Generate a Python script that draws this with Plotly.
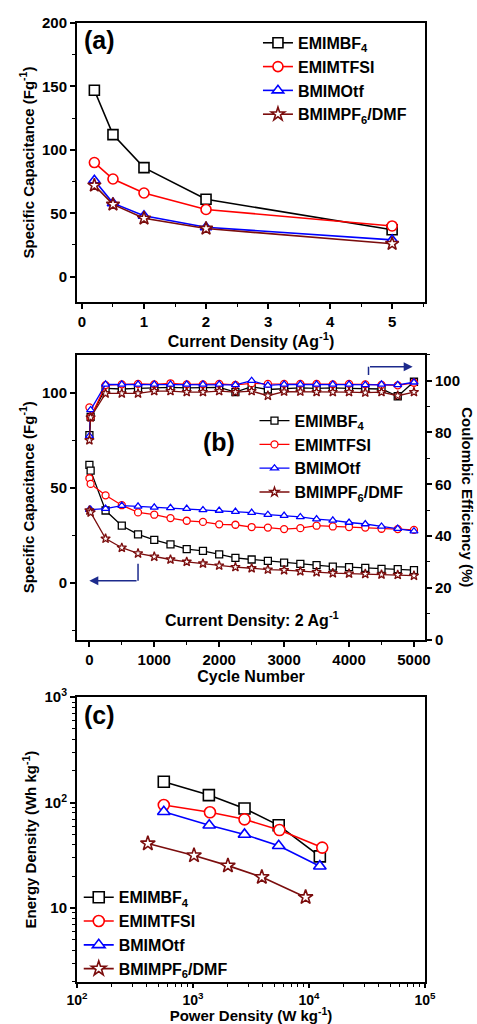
import plotly.graph_objects as go

# ---------------- data ----------------
names = ["EMIMBF<sub>4</sub>", "EMIMTFSI", "BMIMOtf", "BMIMPF<sub>6</sub>/DMF"]
colors = ["#000000", "#ff0000", "#0000ff", "#7b0d0d"]
symbols = ["square", "circle", "triangle-up", "star"]

# (a) specific capacitance vs current density
current_density = [0.2, 0.5, 1, 2, 5]
cap_a_emimbf4 = [147, 112, 86, 61, 37]
cap_a_emimtfsi = [90, 77, 66, 53, 40]
cap_a_bmimotf = [76, 58, 48, 39, 29]
cap_a_bmimpf6 = [72, 57, 46, 38, 26]

# (b) cycling
cycles = [1, 20, 250, 500, 750, 1000, 1250, 1500, 1750, 2000, 2250, 2500,
          2750, 3000, 3250, 3500, 3750, 4000, 4250, 4500, 4750, 5000]
cap_b_emimbf4 = [62, 59, 38, 30, 25.4, 22.5, 20.2, 17.7, 16.7, 14.9, 13.1, 12.2,
                 11.5, 10.6, 9.9, 9.2, 8.5, 8.2, 7.8, 7.3, 7.1, 6.6]
cap_b_emimtfsi = [55, 52, 46, 40.8, 37, 35.8, 34, 32.6, 32, 30.7, 30.5, 29.3,
                  29, 28.2, 28.7, 30, 29.6, 29.3, 29, 28.4, 28.2, 27.8]
cap_b_bmimotf = [38.5, 38.5, 39, 40.6, 40.2, 39.7, 39.4, 39, 38.3, 38, 37.4, 36.9,
                 35.8, 35.3, 34.6, 33.5, 32.8, 31.7, 30.9, 29.6, 28.5, 27.1]
cap_b_bmimpf6 = [38, 37, 23.2, 18.4, 15.4, 13.7, 12.2, 11, 10.1, 9, 8.2, 7.6,
                 6.9, 6.6, 6, 5.5, 5, 4.8, 4.6, 4.3, 4.1, 3.7]
ce_emimbf4 = [79, 86, 97, 96.8, 97, 97.2, 97.4, 97.2, 97.2, 97.4, 95.6, 97.7,
              96.6, 97, 97.2, 97, 97.2, 97, 97, 96.8, 94, 99.6]
ce_emimtfsi = [89.7, 85.8, 98.3, 98.6, 98.8, 98.6, 99, 98.6, 98.6, 98.8, 98.4, 99,
               98.8, 98.8, 98.8, 98.8, 98.6, 98.8, 98.6, 98.4, 98.2, 99.2]
ce_bmimotf = [78.6, 88.7, 98.6, 98.6, 98.6, 98.6, 98.6, 98.6, 98.6, 98.6, 98.4, 100,
              98.2, 98.6, 98.6, 98.6, 98.6, 98.6, 98.4, 98.6, 98.4, 99.4]
ce_bmimpf6 = [77, 85.8, 95.1, 95.1, 95.1, 96, 96, 95.6, 95.6, 96, 95.6, 96,
              94.2, 95.8, 95.8, 95.6, 95.6, 95.6, 95.4, 95.6, 94.2, 95.6]

# (c) Ragone
p_emimbf4 = [560, 1370, 2780, 5480, 12400]
e_emimbf4 = [158, 118, 88, 61, 31]
p_emimtfsi = [560, 1400, 2780, 5560, 13000]
e_emimtfsi = [95, 81, 69.5, 55, 37.5]
p_bmimotf = [560, 1380, 2780, 5480, 12400]
e_bmimotf = [82, 61, 50, 39, 25]
p_bmimpf6 = [408, 1020, 2000, 3920, 9350]
e_bmimpf6 = [41, 31.6, 25.3, 19.7, 12.7]

FONT = "Liberation Sans, Arial, sans-serif"

fig = go.Figure()

cap_a = [cap_a_emimbf4, cap_a_emimtfsi, cap_a_bmimotf, cap_a_bmimpf6]
for i in range(4):
    fig.add_trace(go.Scatter(
        x=current_density, y=cap_a[i], name=names[i], mode="lines+markers",
        line=dict(color=colors[i], width=1.6),
        marker=dict(symbol=symbols[i], size=10, color="white",
                    line=dict(color=colors[i], width=1.6)),
        xaxis="x", yaxis="y", legend="legend"))

cap_b = [cap_b_emimbf4, cap_b_emimtfsi, cap_b_bmimotf, cap_b_bmimpf6]
ce_b = [ce_emimbf4, ce_emimtfsi, ce_bmimotf, ce_bmimpf6]
for i in range(4):
    fig.add_trace(go.Scatter(
        x=cycles, y=ce_b[i], name=names[i], mode="lines+markers", showlegend=False,
        line=dict(color=colors[i], width=1.3),
        marker=dict(symbol=symbols[i], size=7, color="white",
                    line=dict(color=colors[i], width=1.3)),
        xaxis="x2", yaxis="y3"))
for i in range(4):
    fig.add_trace(go.Scatter(
        x=cycles, y=cap_b[i], name=names[i], mode="lines+markers",
        line=dict(color=colors[i], width=1.3),
        marker=dict(symbol=symbols[i], size=7, color="white",
                    line=dict(color=colors[i], width=1.3)),
        xaxis="x2", yaxis="y2", legend="legend2"))

pc = [p_emimbf4, p_emimtfsi, p_bmimotf, p_bmimpf6]
ec = [e_emimbf4, e_emimtfsi, e_bmimotf, e_bmimpf6]
for i in range(4):
    fig.add_trace(go.Scatter(
        x=pc[i], y=ec[i], name=names[i], mode="lines+markers",
        line=dict(color=colors[i], width=1.6),
        marker=dict(symbol=symbols[i], size=11, color="white",
                    line=dict(color=colors[i], width=1.6)),
        xaxis="x3", yaxis="y4", legend="legend3"))

tickfont = dict(family=FONT, size=15, color="black", weight="bold")
xtitlefont = dict(family=FONT, size=16, color="black", weight="bold")
ytitlefont = dict(family=FONT, size=15, color="black", weight="bold")
legfont = dict(family=FONT, size=16, color="black", weight="bold")

def ax(**kw):
    base = dict(showgrid=False, zeroline=False, showline=True, linecolor="black",
                linewidth=2, mirror=True, ticks="outside", ticklen=5, tickwidth=1.5,
                tickcolor="black", tickfont=tickfont, automargin=False)
    base.update(kw)
    return base

def mn(**kw):
    base = dict(ticks="outside", ticklen=3, tickwidth=1.2, tickcolor="black")
    base.update(kw)
    return base

log_minor_x = [m * 10 ** d for d in (2, 3, 4) for m in range(2, 10)]
log_minor_y = [m * 10 ** d for d in (0, 1, 2) for m in range(2, 10)]

fig.update_layout(
    width=477, height=1024, plot_bgcolor="white", paper_bgcolor="white",
    margin=dict(l=77, r=52, t=23, b=42, autoexpand=False),
    font=dict(family=FONT, color="black"),
    xaxis=ax(domain=[0, 1], anchor="y", range=[-0.08, 5.53], dtick=1, tick0=0,
             minor=mn(dtick=0.5, tick0=0),
             title=dict(text="Current Density (Ag<sup>-1</sup>)", font=xtitlefont, standoff=2)),
    yaxis=ax(domain=[0.709, 1], anchor="x", range=[-20, 200], dtick=50, tick0=0,
             minor=mn(dtick=25, tick0=0),
             title=dict(text="Specific Capacitance (Fg<sup>-1</sup>)", font=ytitlefont, standoff=4)),
    xaxis2=ax(domain=[0, 1], anchor="y2", range=[-190, 5170], dtick=1000, tick0=0,
              minor=mn(dtick=500, tick0=0),
              title=dict(text="Cycle Number", font=xtitlefont, standoff=2)),
    yaxis2=ax(domain=[0.357, 0.654], anchor="x2", range=[-30, 120], dtick=50, tick0=0,
              minor=mn(dtick=25, tick0=0),
              title=dict(text="Specific Capacitance (Fg<sup>-1</sup>)", font=ytitlefont, standoff=4)),
    yaxis3=ax(overlaying="y2", anchor="x2", side="right", range=[0, 110], dtick=20, tick0=0,
              mirror=False, minor=mn(dtick=10, tick0=0)),
    xaxis3=ax(domain=[0, 1], anchor="y4", type="log", range=[2, 5],
              tickvals=[100, 1000, 10000, 100000],
              ticktext=["10<sup>2</sup>", "10<sup>3</sup>", "10<sup>4</sup>", "10<sup>5</sup>"],
              tickfont=dict(family=FONT, size=14, color="black", weight="bold"),
              ticklen=4,
              minor=mn(tickvals=log_minor_x),
              title=dict(text="Power Density (W kg<sup>-1</sup>)",
                         font=dict(family=FONT, size=15, color="black", weight="bold"),
                         standoff=2)),
    yaxis4=ax(domain=[0, 0.297], anchor="x3", type="log", range=[0.3, 3],
              tickvals=[10, 100, 1000],
              ticktext=["10", "10<sup>2</sup>", "10<sup>3</sup>"],
              minor=mn(tickvals=log_minor_y),
              title=dict(text="Energy Density (Wh kg<sup>-1</sup>)", font=ytitlefont, standoff=4)),
    legend=dict(x=0.52, y=0.997, xanchor="left", yanchor="top", bgcolor="rgba(0,0,0,0)",
                font=legfont, tracegroupgap=0, itemwidth=30),
    legend2=dict(x=0.51, y=0.603, xanchor="left", yanchor="top", bgcolor="rgba(0,0,0,0)",
                 font=legfont, tracegroupgap=0, itemwidth=30),
    legend3=dict(x=0.005, y=0.106, xanchor="left", yanchor="top", bgcolor="rgba(0,0,0,0)",
                 font=legfont, tracegroupgap=0, itemwidth=30),
)

arrow_color = "#1c2a8c"
fig.add_shape(type="line", xref="x2", yref="y2", x0=750, x1=750, y0=10, y1=1,
              line=dict(color=arrow_color, width=1.5))
fig.add_annotation(xref="x2", yref="y2", axref="x2", ayref="y2", x=0, y=1, ax=750, ay=1,
                   text="", showarrow=True, arrowhead=2, arrowsize=1.2, arrowwidth=1.5,
                   arrowcolor=arrow_color)
fig.add_shape(type="line", xref="x2", yref="y3", x0=4300, x1=4300, y0=102.2, y1=105.4,
              line=dict(color=arrow_color, width=1.5))
fig.add_annotation(xref="x2", yref="y3", axref="x2", ayref="y3", x=4980, y=105.4, ax=4300,
                   ay=105.4, text="", showarrow=True, arrowhead=2, arrowsize=1.2,
                   arrowwidth=1.5, arrowcolor=arrow_color)

big = dict(family=FONT, size=25, color="black", weight="bold")
fig.add_annotation(xref="x domain", yref="y domain", x=0.015, y=0.995, text="(a)",
                   showarrow=False, xanchor="left", yanchor="top", font=big)
fig.add_annotation(xref="x2", yref="y2", x=2000, y=74, text="(b)",
                   showarrow=False, font=big)
fig.add_annotation(xref="x3 domain", yref="y4 domain", x=0.015, y=0.995, text="(c)",
                   showarrow=False, xanchor="left", yanchor="top", font=big)
fig.add_annotation(xref="x2", yref="y2", x=2500, y=-19,
                   text="Current Density: 2 Ag<sup>-1</sup>", showarrow=False,
                   font=dict(family=FONT, size=16, color="black", weight="bold"))
fig.add_annotation(xref="paper", yref="y2", x=1.0, xshift=43, y=45,
                   text="Coulombic Efficiency (%)", textangle=90, showarrow=False,
                   xanchor="center", font=ytitlefont)

fig.write_html("out.html", config={"displayModeBar": False},
               post_script="document.body.style.margin='0px';document.body.style.padding='0px';")
